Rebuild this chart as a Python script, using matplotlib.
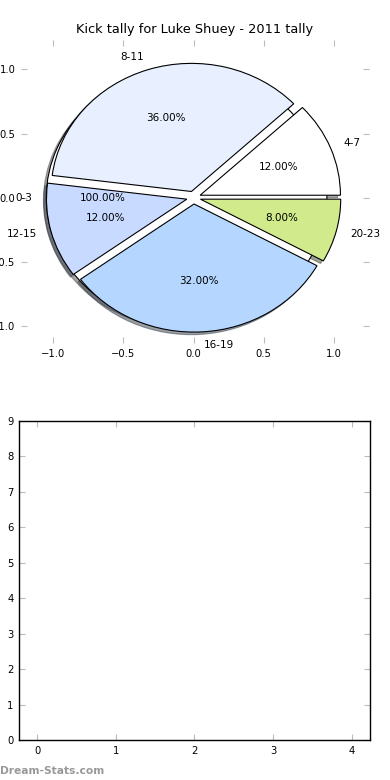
import matplotlib
matplotlib.use("Agg")
import matplotlib.pyplot as plt

title = "Kick tally for Luke Shuey - 2011 tally"
full_label = ["0-3"]
full_value = [1]
full_color = ["#ffffff"]
labels = ["4-7", "8-11", "12-15", "16-19", "20-23"]
values = [3, 9, 3, 8, 2]
colors = ["#ffffff", "#e8f0ff", "#c8daff", "#b4d6ff", "#d0ea8c"]
xticks = [-1.0, -0.5, 0.0, 0.5, 1.0]
yticks = [-1.0, -0.5, 0.0, 0.5, 1.0]
bx_ticks = [0, 1, 2, 3, 4]
by_ticks = list(range(10))

plt.rcParams['font.family'] = ['DejaVu Sans']
fig = plt.figure(figsize=(3.9, 7.8), dpi=100)

ax = fig.add_axes([21/390, 1 - 343/780, 348/390, 303/780])
wp = dict(edgecolor="black", linewidth=0.8)
tp = dict(fontsize=7.5)
sh = dict(ox=-0.0144, oy=-0.0144)
ax.pie(full_value, labels=full_label, colors=full_color, explode=[0.05],
       autopct="%.2f%%", shadow=sh, wedgeprops=wp, textprops=tp, frame=True)
ax.pie(values, labels=labels, colors=colors, explode=[0.05]*len(values),
       autopct="%.2f%%", shadow=sh, wedgeprops=wp, textprops=tp, frame=True)
ax.set_aspect("auto")
ax.set_xlim(-1.23, 1.25)
ax.set_ylim(-1.135, 1.23)
ax.set_xticks(xticks)
ax.set_yticks(yticks)
ax.set_xticklabels([f"{v:.1f}".replace("-", "\u2212") for v in xticks])
ax.set_yticklabels([f"{v:.1f}".replace("-", "\u2212") for v in yticks])
for s in ax.spines.values():
    s.set_visible(False)
ax.tick_params(direction="in", length=4, color="#bbbbbb", labelsize=7.2,
               top=True, right=True, pad=4)
ax.set_title(title, fontsize=9.3, pad=5)

bx = fig.add_axes([19/390, 40/780, 351/390, 319/780])
bx.set_xlim(-0.23, 4.23)
bx.set_ylim(0, 9)
bx.set_xticks(bx_ticks)
bx.set_yticks(by_ticks)
bx.tick_params(direction="in", length=4, color="#bbbbbb", labelsize=7.2,
               top=True, right=True, pad=4)
for s in bx.spines.values():
    s.set_linewidth(1.0)

fig.text(0.0, 4/780, "Dream-Stats.com", fontsize=7.7, color="#999999",
         ha="left", va="bottom", fontweight="bold")

fig.savefig("out.png", dpi=100)
